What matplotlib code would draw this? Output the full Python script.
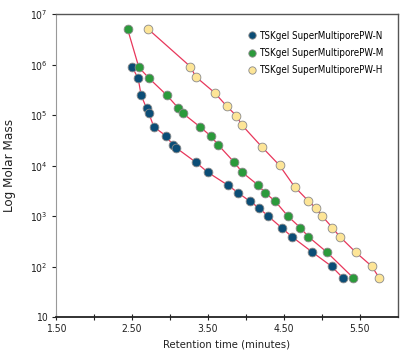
import numpy as np
import matplotlib
matplotlib.use("Agg")
from matplotlib import pyplot as plt
from matplotlib.lines import Line2D
from matplotlib.ticker import FixedLocator, FuncFormatter

plt.rcParams['font.family'] = ['DejaVu Sans']
plt.rcParams['font.stretch'] = 'condensed'

# -----------------------------------------------------------#
# Data (retention time, molar mass)
# -----------------------------------------------------------#
t_N = [2.504, 2.583, 2.622, 2.693, 2.723, 2.789, 2.950, 3.038, 3.077, 3.340, 3.501,
       3.766, 3.900, 4.049, 4.167, 4.295, 4.469, 4.606, 4.875, 5.127, 5.272]
m_N = [9.0e5, 5.4e5, 2.5e5, 1.38e5, 1.1e5, 5.9e4, 3.9e4, 2.6e4, 2.3e4, 1.18e4, 7.4e3,
       4.1e3, 2.9e3, 2.0e3, 1.48e3, 1.0e3, 594, 393, 194, 102, 61]

t_M = [2.444, 2.592, 2.727, 2.959, 3.113, 3.173, 3.396, 3.537, 3.635, 3.845, 3.953,
       4.163, 4.255, 4.383, 4.554, 4.715, 4.823, 5.066, 5.409]
m_M = [5.1e6, 8.9e5, 5.4e5, 2.5e5, 1.38e5, 1.09e5, 5.9e4, 3.9e4, 2.6e4, 1.18e4, 7.4e3,
       4.1e3, 2.9e3, 2.0e3, 1.0e3, 594, 393, 194, 61]

t_H = [2.714, 3.270, 3.340, 3.589, 3.745, 3.874, 3.948, 4.206, 4.442, 4.639, 4.823,
       4.917, 5.003, 5.138, 5.236, 5.444, 5.654, 5.751]
m_H = [5.1e6, 9.2e5, 5.8e5, 2.8e5, 1.53e5, 9.8e4, 6.4e4, 2.4e4, 1.02e4, 3.85e3, 2.0e3,
       1.47e3, 1.01e3, 592, 394, 194, 103, 61]

labels = ["TSKgel SuperMultiporePW-N", "TSKgel SuperMultiporePW-M", "TSKgel SuperMultiporePW-H"]
colors = ["#0b4d76", "#2b9a3b", "#fde597"]

x_ticks = [1.5, 2.5, 3.5, 4.5, 5.5]
x_tick_labels = ["1.50", "2.50", "3.50", "4.50", "5.50"]

# -----------------------------------------------------------#
# Figure
# -----------------------------------------------------------#
fig = plt.figure(figsize=(4.0, 3.6), dpi=100)
ax = fig.add_axes([0.1395, 0.1186, 0.8555, 0.8417])

line_col = "#e8375b"
for t, m, c in zip([t_N, t_M, t_H], [m_N, m_M, m_H], colors):
    ax.plot(t, m, '-', color=line_col, linewidth=0.9, zorder=2)
    ax.plot(t, m, 'o', markersize=6.3, markerfacecolor=c,
            markeredgecolor="#8a8a8a", markeredgewidth=0.6, zorder=3)

ax.set_yscale('log')
ax.set_xlim(1.5, 6.0)
ax.set_ylim(10, 1e7)

ax.set_xticks(x_ticks)
ax.set_xticklabels(x_tick_labels)
ax.xaxis.set_minor_locator(FixedLocator(np.arange(2.0, 6.0, 1.0)))
ax.tick_params(axis='x', which='both', direction='inout', length=4, width=0.8,
               labelsize=7.5, colors='#222222', pad=3)

ax.yaxis.set_major_locator(FixedLocator([10, 1e2, 1e3, 1e4, 1e5, 1e6, 1e7]))
ax.yaxis.set_minor_locator(FixedLocator([]))
ax.yaxis.set_major_formatter(FuncFormatter(
    lambda v, p: "10" if v < 11 else r"$\mathregular{10^{%d}}$" % int(round(np.log10(v)))))
ax.tick_params(axis='y', which='major', direction='out', length=3, width=0.8,
               labelsize=7.5, colors='#222222', pad=3)

for s in ['top', 'right']:
    ax.spines[s].set_color('#555555')
    ax.spines[s].set_linewidth(1.0)
ax.spines['left'].set_color('#999999')
ax.spines['left'].set_linewidth(0.8)
ax.spines['bottom'].set_color('#222222')
ax.spines['bottom'].set_linewidth(1.3)

ax.set_xlabel("Retention time (minutes)", fontsize=8.1, color='#222222', labelpad=4)
ax.set_ylabel("Log Molar Mass", fontsize=9.6, color='#222222', labelpad=10)

handles = [Line2D([], [], linestyle='none', marker='o', markersize=5.3,
                  markerfacecolor=c, markeredgecolor="#8a8a8a", markeredgewidth=0.6)
           for c in colors]
ax.legend(handles, labels, loc='upper left', bbox_to_anchor=(0.537, 0.968), frameon=False,
          fontsize=7.0, handletextpad=0.15, labelspacing=0.75, borderpad=0.2,
          handlelength=1.2)

plt.savefig("out.png", dpi=100)
